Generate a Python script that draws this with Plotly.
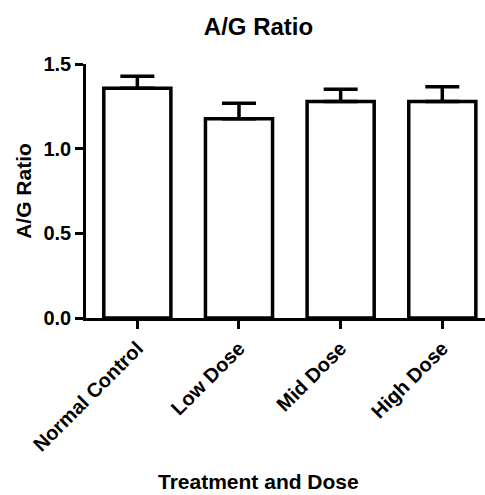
import plotly.graph_objects as go

categories = ["Normal Control", "Low Dose", "Mid Dose", "High Dose"]
means = [1.357, 1.177, 1.278, 1.278]
errors = [0.071, 0.091, 0.073, 0.088]
y_ticks = [0.0, 0.5, 1.0, 1.5]
y_tick_labels = ["0.0", "0.5", "1.0", "1.5"]

font_family = "Liberation Sans, Arial, sans-serif"

fig = go.Figure()
fig.add_trace(go.Bar(
    x=list(range(len(categories))),
    y=means,
    width=0.66,
    marker=dict(color="white", line=dict(color="black", width=3.5)),
    error_y=dict(type="data", array=errors, symmetric=False, arrayminus=[0]*4,
                 color="black", thickness=3.5, width=17),
))

fig.add_annotation(
    text="Treatment and Dose", xref="paper", yref="paper",
    x=0.432, y=-0.642, xanchor="center", yanchor="middle", showarrow=False,
    font=dict(family=font_family, size=21, color="black", weight="bold"),
)

fig.update_layout(
    width=485, height=495,
    margin=dict(l=86, r=0, t=64, b=177),
    paper_bgcolor="white", plot_bgcolor="white",
    showlegend=False,
    title=dict(text="A/G Ratio", x=0.533, xanchor="center", y=0.947, yanchor="middle",
               font=dict(family=font_family, size=24, color="black", weight="bold")),
    xaxis=dict(
        range=[-0.505, 3.42],
        tickmode="array", tickvals=list(range(len(categories))), ticktext=categories,
        tickangle=-45,
        showline=True, linecolor="black", linewidth=2.5,
        ticks="outside", ticklen=8, tickwidth=2.5, tickcolor="black",
        showgrid=False, zeroline=False,
        tickfont=dict(family=font_family, size=20, color="black", weight="bold"),
    ),
    yaxis=dict(
        range=[0, 1.5],
        tickmode="array", tickvals=y_ticks, ticktext=y_tick_labels,
        showline=True, linecolor="black", linewidth=2.5,
        ticks="outside", ticklen=8, tickwidth=2.5, tickcolor="black",
        showgrid=False, zeroline=False,
        tickfont=dict(family=font_family, size=20, color="black", weight="bold"),
        title=dict(text="A/G Ratio", standoff=7,
                   font=dict(family=font_family, size=21, color="black", weight="bold")),
    ),
)

fig.write_html("out.html")
